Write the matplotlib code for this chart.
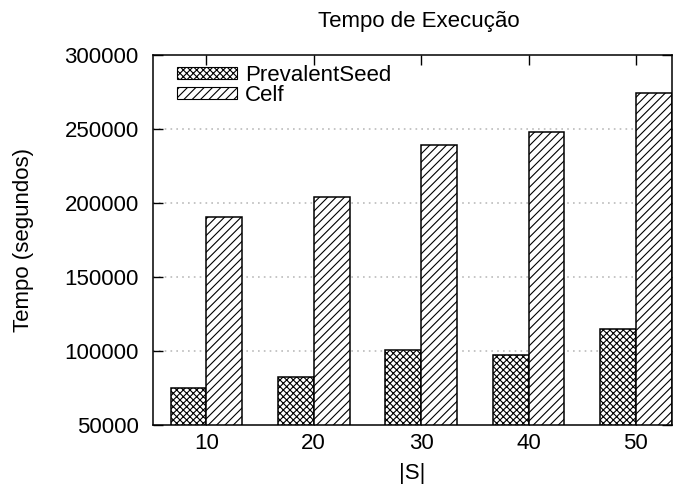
import numpy as np
import matplotlib
matplotlib.use('Agg')
import matplotlib.pyplot as plt
from matplotlib.patches import Patch

plt.rcParams['font.family'] = ['Liberation Sans', 'DejaVu Sans']
plt.rcParams['hatch.linewidth'] = 0.8

tamanhos = ['10', '20', '30', '40', '50']
prevalent_seed = [75000, 82500, 100500, 97000, 115000]
celf = [190500, 204300, 239200, 248200, 274100]

fs = 16

fig = plt.figure(figsize=(6.81, 4.9), dpi=100)
ax = fig.add_axes([0.2242, 0.1327, 0.7621, 0.7551])

x = np.arange(len(tamanhos))
w = 1 / 3
ax.bar(x - w / 2, prevalent_seed, w, color='white', edgecolor='black',
       hatch='xxxxx', linewidth=1.1, zorder=3)
ax.bar(x + w / 2, celf, w, color='white', edgecolor='black',
       hatch='////', linewidth=1.1, zorder=3)

ax.set_xlim(-0.5, len(tamanhos) - 1 + w)
ax.set_ylim(50000, 300000)
ax.set_yticks(np.arange(50000, 300001, 50000))
ax.set_xticks(x)
ax.set_xticklabels(tamanhos)

# grade pontilhada horizontal
for v in range(100000, 300000, 50000):
    ax.axhline(v, color='#bbbbbb', linestyle=(0, (1, 2.5)), linewidth=1.2, zorder=1)

ax.tick_params(axis='both', direction='in', length=7, width=1, labelsize=fs,
               top=True, right=True)
ax.tick_params(axis='y', pad=10)
ax.tick_params(axis='x', pad=6)
for s in ax.spines.values():
    s.set_linewidth(1.1)
    s.set_zorder(4)

ax.set_xlabel('|S|', fontsize=fs, labelpad=6)
ax.set_ylabel('Tempo (segundos)', fontsize=fs, labelpad=22)
fig.text(419 / 681, 1 - 22 / 490, 'Tempo de Execução', ha='center', va='center',
         fontsize=fs)

handles = [Patch(facecolor='white', edgecolor='black', hatch='xxxxx', linewidth=0.8),
           Patch(facecolor='white', edgecolor='black', hatch='////', linewidth=0.8)]
ax.legend(handles, ['PrevalentSeed', 'Celf'], loc='upper left', frameon=False,
          fontsize=fs, handlelength=2.7, handleheight=0.4, labelspacing=-0.05,
          handletextpad=0.35, borderaxespad=0.0, bbox_to_anchor=(0.03, 0.997))

fig.savefig('out.png', dpi=100)
